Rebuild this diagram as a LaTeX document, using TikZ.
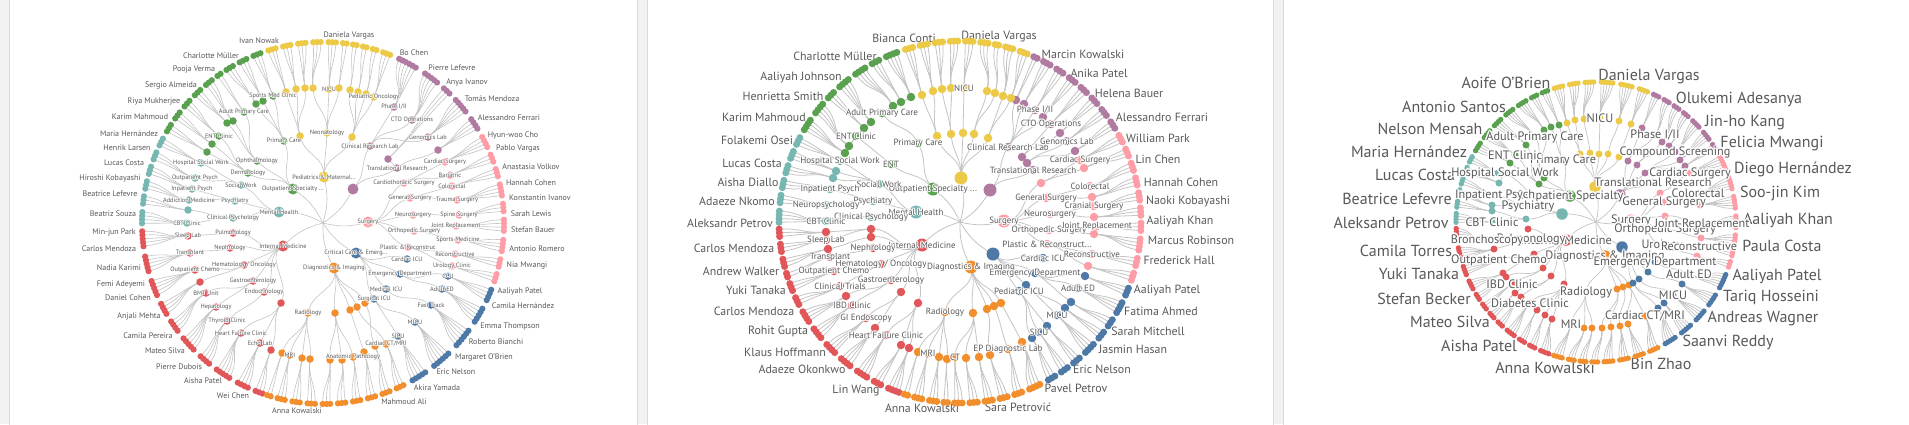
\documentclass[tikz,border=0pt]{standalone}
\usepackage{fontspec}
\setmainfont{PT Sans}
\usetikzlibrary{calc}
\definecolor{tyel}{HTML}{EDC948}
\definecolor{tpur}{HTML}{B07AA1}
\definecolor{tpnk}{HTML}{FF9DA7}
\definecolor{tblu}{HTML}{4E79A7}
\definecolor{tora}{HTML}{F28E2B}
\definecolor{tred}{HTML}{E15759}
\definecolor{ttea}{HTML}{76B7B2}
\definecolor{tgrn}{HTML}{59A14F}
\definecolor{twiggray}{HTML}{C4C4C4}
\definecolor{labgray}{HTML}{595959}
\definecolor{panelgray}{HTML}{F2F2F2}
\definecolor{edgegray}{HTML}{DADADA}
\tikzset{
  leafdot/.style={circle,inner sep=0pt,minimum size=7pt},
  hubdot/.style={circle,inner sep=0pt,minimum size=8.5pt},
  catdot/.style={circle,inner sep=0pt,minimum size=11pt},
  twig/.style={draw=twiggray,line width=.7pt},
  inlab/.style={text=labgray,inner sep=0pt},
  outlab/.style={text=labgray,inner sep=0pt},
}
% white halo round a label
\newdimen\halow
\newcommand\haloed[1]{\leavevmode\halow=.12em\relax
  \rlap{\textcolor{white}{\kern\halow#1}}\rlap{\textcolor{white}{\kern-\halow#1}}%
  \rlap{\textcolor{white}{\raisebox{\halow}{#1}}}\rlap{\textcolor{white}{\raisebox{-\halow}{#1}}}%
  \rlap{\textcolor{white}{\kern.7\halow\raisebox{.7\halow}{#1}}}\rlap{\textcolor{white}{\kern-.7\halow\raisebox{.7\halow}{#1}}}%
  \rlap{\textcolor{white}{\kern.7\halow\raisebox{-.7\halow}{#1}}}\rlap{\textcolor{white}{\kern-.7\halow\raisebox{-.7\halow}{#1}}}%
  #1}
% radial link from #1 to #2 round (ctr)
\newcommand\radlink[2]{%
  \draw[twig] let \p1=($(#1)-(ctr)$), \p2=($(#2)-(ctr)$),
    \n1={scalar(atan2(\y1,\x1))}, \n2={scalar(atan2(\y2,\x2))},
    \n3={(veclen(\x1,\y1)+veclen(\x2,\y2))/2} in
    (#1) .. controls ($(ctr)+(\n1:\n3)$) and ($(ctr)+(\n2:\n3)$) .. (#2);}
% pass 1 links, pass 2 dots, pass 3 labels
% #1 colour, #2 first leaf angle, #3 hubs: name/x/y/parent/leaves/label
\newcommand\branch[3]{%
  \xdef\aleaf{#2}%
  \foreach \hn/\hx/\hy/\hp/\hk/\lbl in {#3}{%
    \ifcase\pass\or
      \coordinate (\hn) at (\hx,\hy); \radlink{\hp}{\hn}%
    \or
      \node[hubdot,fill=#1] (\hn) at (\hx,\hy) {};%
    \or
      \ifx\lbl\empty\else\node[inlab] (l\hn) at (\hx,\hy) {\haloed{\lbl}};\fi
    \fi
    \ifnum\hk>0
      \foreach \kk in {1,...,\hk}{%
        \pgfmathsetmacro\ang{\aleaf+\hk*\astep/2+(\kk-(\hk+1)/2)*0.74*\astep}%
        \ifcase\pass\or
          \coordinate (lf) at ({\cx+\rr*cos(\ang)},{\cy-\rr*sin(\ang)}); \radlink{\hn}{lf}%
        \or
          \node[leafdot,fill=#1] (lf) at ({\cx+\rr*cos(\ang)},{\cy-\rr*sin(\ang)}) {};%
        \fi}%
      \pgfmathsetmacro\anew{\aleaf+\hk*\astep}%
      \xdef\aleaf{\anew}%
    \fi}}
% categories round the centre
\newcommand\trunk[1]{%
  \foreach \nm/\x/\y/\col/\lbl in {#1}{%
    \ifcase\pass\or
      \coordinate (\nm) at (\x,\y); \draw[twig] (ctr) to[bend right=15] (\nm);%
    \or
      \node[catdot,fill=\col] (\nm) at (\x,\y) {};%
    \or
      \ifx\lbl\empty\else\node[inlab] (l\nm) at (\x,\y) {\haloed{\lbl}};\fi
    \fi}}
\begin{document}
\begin{tikzpicture}[x=1pt,y=-1pt]
  \useasboundingbox (0,0) rectangle (1909,424);
  \fill[panelgray] (0,0) rectangle (1909,424);
  \foreach \a/\b in {9/637,647/1273,1283/1910}{\filldraw[fill=white,draw=edgegray] (\a,-1) rectangle (\b,425);}
  \def\astep{1.607}
  % (1) small labels
  \begin{scope}[leafdot/.append style={minimum size=6.2pt},hubdot/.append style={minimum size=7.5pt},
      catdot/.append style={minimum size=11pt},twig/.append style={line width=.6pt},
      inlab/.append style={font=\fontsize{6.3}{7}\selectfont},outlab/.append style={font=\fontsize{8}{9}\selectfont}]
    \def\cx{323}\def\cy{223}\def\rr{181}
    \coordinate (ctr) at (\cx,\cy);
    \foreach \x/\y/\who [count=\nn] in {259/41/Ivan Nowak,349/36/Daniela Vargas,414/53/Bo Chen,452/68/Pierre Lefevre,
      467/82/Anya Ivanov,492/99/Tomás Mendoza,509/118/Alessandro Ferrari,513/135/Hyun-woo Cho,518/149/Pablo Vargas,
      531/167/Anastasia Volkov,531/183/Hannah Cohen,540/198/Konstantin Ivanov,531/214/Sarah Lewis,533/230/Stefan Bauer,
      537/249/Antonio Romero,527/265/Nia Mwangi,520/291/Aaliyah Patel,523/306/Camila Hernández,510/326/Emma Thompson,
      496/342/Roberto Bianchi,484/357/Margaret O'Brien,456/372/Eric Nelson,437/388/Akira Yamada,404/402/Mahmoud Ali,
      297/411/Anna Kowalski,233/396/Wei Chen,203/381/Aisha Patel,179/367/Pierre Dubois,165/351/Mateo Silva,
      148/336/Camila Pereira,139/316/Anjali Mehta,128/298/Daniel Cohen,121/284/Femi Adeyemi,119/268/Nadia Karimi,
      109/249/Carlos Mendoza,114/233/Min-jun Park,113/214/Beatriz Souza,110/194/Beatrice Lefevre,110/178/Hiroshi Kobayashi,
      124/163/Lucas Costa,127/148/Henrik Larsen,129/134/Maria Hernández,140/117/Karim Mahmoud,154/102/Riya Mukherjee,
      171/85/Sergio Almeida,194/70/Pooja Verma,211/56/Charlotte Müller}
      {\node[outlab] (w\nn) at (\x,\y) {\who};}
    \foreach \pass in {1,2,3}{
    \trunk{ped/324/177/tyel/{Pediatrics \& Maternal...},out/293/189/tgrn/{Outpatient Specialty ...},
      men/279/212/ttea/{Mental Health},int/283/246/tred/{Internal Medicine},dia/334/268/tora/{Diagnostics \& Imaging},
      cri/356/253/tblu/{Critical Care \& Emerg...},sur/368/222/tpnk/{Surgery},res/353/189/tpur/{}}
    \branch{tpur}{30}{tr/397/168/res/0/{Translational Research},crl/370/146/res/0/{Clinical Research Lab},
      a1/438/150/tr/4/{},gen/428/137/crl/5/{Genomics Lab},a2/388/159/tr/3/{},
      cto/412/120/crl/5/{CTO Operations},ph/394/107/crl/6/{Phase I/II}}
    \branch{tyel}{67}{neo/327/133/ped/0/{Neonatology},ya/300/136/ped/0/{},yb/352/137/ped/0/{},
      pon/374/97/yb/3/{Pediatric Oncology},y1/366/94/yb/2/{},y2/358/92/yb/2/{},y3/350/90/yb/2/{},
      y4/339/88/neo/2/{},nicu/329/89/neo/3/{NICU},y5/313/88/neo/3/{},y6/305/88/ya/3/{},y7/296/89/ya/3/{},y8/286/92/ya/3/{}}
    \branch{tgrn}{109}{pc/284/141/out/0/{Primary Care},oph/257/161/out/0/{Ophthalmology},der/248/173/out/0/{Dermatology},
      smc/273/96/pc/3/{Sports Med Clinic},g1/263/101/pc/3/{},g2/256/104/pc/3/{},
      apc/244/112/oph/2/{Adult Primary Care},g3/233/121/oph/3/{},g4/227/123/oph/3/{},
      ent/219/136/der/3/{ENT Clinic},g5/212/144/der/3/{},g6/207/152/der/3/{}}
    \branch{ttea}{151}{sw/241/185/men/0/{Social Work},psy/235/201/men/0/{Psychiatry},cp/233/218/men/0/{Clinical Psychology},
      hsw/201/163/sw/3/{Hospital Social Work},op/195/178/sw/3/{Outpatient Psych},ip/192/189/psy/3/{Inpatient Psych},
      am/189/200/psy/3/{Addiction Medicine},t1/188/210/cp/3/{},cbt/187/223/cp/4/{CBT Clinic}}
    \branch{tred}{181}{pul/233/233/int/0/{Pulmonology},nep/230/248/int/0/{Nephrology},ho/244/265/int/0/{Hematology / Oncology},
      gas/253/281/int/0/{Gastroenterology},endo/264/292/int/0/{Endocrinology},r3/281/303/int/0/{},
      sl/188/236/pul/5/{Sleep Lab},tra/190/253/nep/5/{Transplant},oc/195/270/ho/5/{Outpatient Chemo},r1/200/282/ho/4/{},
      bmt/206/293/gas/4/{BMT Unit},hep/216/307/gas/5/{Hepatology},thy/227/321/endo/4/{Thyroid Clinic},
      hfc/241/333/r3/5/{Heart Failure Clinic},echo/260/343/r3/4/{Echo Lab},r2/271/350/r3/3/{}}
    \branch{tora}{251}{rad/308/313/dia/0/{Radiology},o8/335/313/dia/0/{},o9/357/307/dia/0/{},o10/350/310/dia/0/{},
      o11/365/303/dia/0/{},o1/282/353/rad/2/{},mri/290/355/rad/3/{MRI},o2/302/358/rad/3/{},o3/310/359/rad/3/{},
      o4/330/360/o8/3/{},o5/342/360/o8/3/{},ap/353/357/o8/3/{Anatomic Pathology},o6/364/352/o10/3/{},
      o7/375/346/o11/3/{},cct/386/344/o9/3/{Cardiac CT/MRI}}
    \branch{tblu}{298}{cicu/407/259/cri/0/{Cardiac ICU},ed/400/274/cri/0/{Emergency Department},
      micu1/386/289/cri/0/{Medical ICU},sicu1/374/299/cri/0/{Surgical ICU},sicu/398/336/sicu1/5/{SICU},
      micu/415/322/sicu1/6/{MICU},ft/431/305/micu1/6/{Fast Track},aed/442/289/ed/5/{Adult ED},ccu/448/276/ed/4/{CCU}}
    \branch{tpnk}{340}{cts/404/183/sur/0/{Cardiothoracic Surgery},gs/410/198/sur/0/{General Surgery},
      ns/413/215/sur/0/{Neurosurgery},os/414/231/sur/0/{Orthopedic Surgery},prc/408/247/sur/0/{Plastic \& Reconstruc},
      uro/452/266/prc/3/{Urology Clinic},rec/455/254/prc/3/{Reconstructive},sm/458/240/os/4/{Sports Medicine},
      jr/456/226/os/4/{Joint Replacement},ss/459/215/ns/3/{Spine Surgery},ts/457/200/gs/4/{Trauma Surgery},
      col/452/186/gs/3/{Colorectal},bar/450/175/cts/3/{Bariatric},cs/445/162/cts/4/{Cardiac Surgery}}
    }
  \end{scope}
  % (2) medium labels
  \begin{scope}[leafdot/.append style={minimum size=7pt},hubdot/.append style={minimum size=8.5pt},
      catdot/.append style={minimum size=13pt},twig/.append style={line width=.8pt},
      inlab/.append style={font=\fontsize{9}{10}\selectfont},outlab/.append style={font=\fontsize{11.9}{13}\selectfont}]
    \def\cx{960}\def\cy{222}\def\rr{181}
    \coordinate (ctr) at (\cx,\cy);
    \foreach \x/\y/\who [count=\nn] in {904/38/Bianca Conti,999/37/Daniela Vargas,1083/54/Marcin Kowalski,
      1099/73/Anika Patel,1129/93/Helena Bauer,1162/117/Alessandro Ferrari,1158/138/William Park,1158/159/Lin Chen,
      1181/182/Hannah Cohen,1188/201/Naoki Kobayashi,1180/221/Aaliyah Khan,1191/240/Marcus Robinson,
      1179/260/Frederick Hall,1167/290/Aaliyah Patel,1161/311/Fatima Ahmed,1148/331/Sarah Mitchell,
      1133/349/Jasmin Hasan,1102/369/Eric Nelson,1076/388/Pavel Petrov,1018/407/Sara Petrović,922/408/Anna Kowalski,
      856/391/Lin Wang,802/369/Adaeze Okonkwo,785/352/Klaus Hoffmann,778/331/Rohit Gupta,754/311/Carlos Mendoza,
      756/290/Yuki Tanaka,741/271/Andrew Walker,734/248/Carlos Mendoza,730/223/Aleksandr Petrov,737/201/Adaeze Nkomo,
      748/182/Aisha Diallo,752/163/Lucas Costa,757/140/Folakemi Osei,764/117/Karim Mahmoud,783/96/Henrietta Smith,
      801/77/Aaliyah Johnson,835/56/Charlotte Müller}
      {\node[outlab] (w\nn) at (\x,\y) {\who};}
    \foreach \pass in {1,2,3}{
    \trunk{ped/961/178/tyel/{},out/933/189/tgrn/{Outpatient Specialty ...},men/916/212/ttea/{Mental Health},
      int/922/245/tred/{Internal Medicine},dia/971/267/tora/{Diagnostics \& Imaging},cri/993/254/tblu/{},
      sur/1004/221/tpnk/{Surgery},res/990/190/tpur/{}}
    \branch{tpur}{30}{crl/1008/147/res/0/{Clinical Research Lab},tr/1033/170/res/0/{Translational Research},
      q6/1022/157/tr/0/{},q7/1027/163/tr/0/{},q1/1075/151/q7/3/{},gen/1067/141/q7/3/{Genomics Lab},
      q2/1060/133/q6/3/{},cto/1051/124/q6/3/{CTO Operations},q3/1043/117/crl/3/{},ph/1035/110/crl/3/{Phase I/II},
      q4/1024/104/crl/3/{},q5/1016/100/crl/2/{}}
    \branch{tyel}{67}{m1/988/138/ped/0/{},m2/974/134/ped/0/{},m3/963/133/ped/0/{},m4/951/134/ped/0/{},m5/937/136/ped/0/{},
      y1/1011/98/m1/3/{},y2/1003/96/m1/3/{},y3/995/93/m2/2/{},y4/987/91/m2/3/{},nicu/964/88/m3/3/{NICU},
      y5/951/88/m4/3/{},y6/942/89/m4/3/{},y7/933/91/m5/3/{},y8/922/95/m5/3/{}}
    \branch{tgrn}{109}{pc/918/143/out/0/{Primary Care},ent/891/164/out/0/{ENT},apc/882/113/pc/0/{Adult Primary Care},
      entc/856/136/ent/0/{ENT Clinic},g1/911/97/apc/4/{},g2/901/102/apc/3/{},g3/893/106/apc/4/{},
      g4/871/122/entc/4/{},g5/864/128/entc/3/{},g6/849/146/entc/4/{},g7/845/153/entc/4/{}}
    \branch{ttea}{151}{sw/879/184/men/0/{Social Work},psy/873/201/men/0/{Psychiatry},cp/871/217/men/0/{Clinical Psychology},
      hsw/840/161/sw/3/{Hospital Social Work},t1/836/171/sw/3/{},t2/833/178/sw/3/{},ip/830/189/psy/3/{Inpatient Psych},
      np/826/205/psy/3/{Neuropsychology},cbt/826/221/cp/4/{CBT Clinic}}
    \branch{tred}{181}{r12/871/229/int/0/{},r13/871/237/int/0/{},nep/873/248/int/0/{Nephrology},
      ho/881/264/int/0/{Hematology / Oncology},gas/891/280/int/0/{Gastroenterology},r14/901/292/int/0/{},r15/918/303/int/0/{},
      r1/826/232/r12/3/{},sl/826/240/r12/3/{Sleep Lab},r2/828/249/r13/3/{},tra/830/257/nep/2/{Transplant},
      oc/834/271/ho/3/{Outpatient Chemo},ct/840/286/ho/3/{Clinical Trials},r5/846/296/gas/4/{},
      ibd/852/305/gas/4/{IBD Clinic},gie/866/318/r14/4/{GI Endoscopy},r8/875/328/r14/4/{},
      hfc/886/335/r15/4/{Heart Failure Clinic},r10/901/345/r15/3/{},r11/909/348/r15/4/{}}
    \branch{tora}{251}{rad/945/312/dia/0/{Radiology},o9/973/313/dia/0/{},o10/987/309/dia/0/{},o11/994/306/dia/0/{},
      o12/1001/303/dia/0/{},o1/918/352/rad/2/{},mri/928/353/rad/3/{MRI},o2/939/357/rad/3/{},o3/947/359/rad/2/{},
      ct2/955/357/o9/3/{CT},o4/966/358/o9/3/{},o5/979/357/o9/3/{},o6/990/355/o10/3/{},
      epd/1008/349/o11/3/{EP Diagnostic Lab},o8/1022/342/o12/4/{}}
    \branch{tblu}{298}{cicu/1043/258/cri/0/{Cardiac ICU},ed/1035/273/cri/0/{Emergency Department},
      picu/1019/291/cri/0/{Pediatric ICU},b6/1026/285/cri/0/{},b1/1032/338/picu/3/{},sicu/1039/332/picu/3/{SICU},
      b2/1047/326/picu/3/{},micu/1057/315/b6/4/{MICU},b3/1065/308/b6/3/{},b4/1071/302/ed/3/{},
      aed/1078/288/ed/4/{Adult ED},b5/1085/276/ed/3/{}}
    \branch{tpnk}{340}{p6/1041/183/sur/0/{},gs/1046/198/sur/0/{General Surgery},ns/1050/214/sur/0/{Neurosurgery},
      os/1049/230/sur/0/{Orthopedic Surgery},prc/1047/244/sur/0/{Plastic \& Reconstruct...},
      p1/1088/266/prc/3/{},rec/1092/254/prc/3/{Reconstructive},p2/1094/234/os/4/{},jr/1097/226/os/3/{Joint Replacement},
      p3/1094/217/ns/3/{},crs/1094/206/ns/3/{Cranial Surgery},p4/1092/197/gs/3/{},col/1090/186/gs/3/{Colorectal},
      p5/1084/168/p6/3/{},cs/1080/160/p6/3/{Cardiac Surgery}}
    }
  \end{scope}
  % (3) large labels
  \begin{scope}[leafdot/.append style={minimum size=5.4pt},hubdot/.append style={minimum size=7pt},
      catdot/.append style={minimum size=11.5pt},twig/.append style={line width=.7pt},
      inlab/.append style={font=\fontsize{12.2}{13}\selectfont},outlab/.append style={font=\fontsize{16}{17}\selectfont}]
    \def\cx{1596}\def\cy{222}\def\rr{140}
    \coordinate (ctr) at (\cx,\cy);
    \foreach \x/\y/\who [count=\nn] in {1506/83/Aoife O'Brien,1649/77/Daniela Vargas,1739/99/Olukemi Adesanya,
      1745/123/Jin-ho Kang,1772/144/Felicia Mwangi,1793/169/Diego Hernández,1780/193/Soo-jin Kim,1788/220/Aaliyah Khan,
      1782/246/Paula Costa,1777/276/Aaliyah Patel,1771/297/Tariq Hosseini,1763/319/Andreas Wagner,1728/342/Saanvi Reddy,
      1661/364/Bin Zhao,1545/368/Anna Kowalski,1479/346/Aisha Patel,1450/322/Mateo Silva,1424/299/Stefan Becker,
      1419/274/Yuki Tanaka,1406/251/Camila Torres,1391/223/Aleksandr Petrov,1397/199/Beatrice Lefevre,
      1415/175/Lucas Costa,1409/152/Maria Hernández,1430/129/Nelson Mensah,1454/107/Antonio Santos}
      {\node[outlab] (w\nn) at (\x,\y) {\who};}
    \foreach \pass in {1,2,3}{
    \trunk{ped/1595/187/tyel/{},out/1570/196/tgrn/{Outpatient Specialty},men/1562/214/ttea/{},
      int/1566/240/tred/{Internal Medicine},dia/1605/256/tora/{Diagnostics \& Imaging},cri/1622/247/tblu/{},
      sur/1631/220/tpnk/{Surgery},res/1620/195/tpur/{}}
    \branch{tpur}{30}{m1/1628/161/res/0/{},m2/1637/165/res/0/{},m3/1645/173/res/0/{},
      tr/1653/182/res/0/{Translational Research},q1/1685/166/m3/3/{},q2/1680/160/m3/4/{},
      cmp/1675/152/m3/4/{Compound Screening},q3/1669/146/m2/3/{},q4/1662/142/m2/3/{},ph/1655/135/m1/3/{Phase I/II},
      q5/1642/128/m1/3/{}}
    \branch{tyel}{67}{m1/1619/157/ped/0/{},m2/1608/154/ped/0/{},m3/1599/154/ped/0/{},m4/1590/153/ped/0/{},
      m5/1580/154/ped/0/{},y1/1631/124/m1/4/{},y2/1619/121/m2/5/{},nicu/1600/118/m3/5/{NICU},y3/1584/119/m4/4/{},
      y4/1575/120/m5/4/{},y5/1567/123/m5/4/{}}
    \branch{tgrn}{109}{pc/1563/160/out/0/{Primary Care},g6/1544/178/out/0/{},g7/1539/184/out/0/{},
      g1/1559/125/pc/3/{},g2/1551/127/pc/3/{},g3/1544/130/g6/4/{},apc/1535/137/g6/4/{Adult Primary Care},
      g4/1526/145/g7/4/{},entc/1515/155/g7/4/{ENT Clinic},g5/1510/163/g7/4/{}}
    \branch{ttea}{151}{hsw/1505/173/men/0/{Hospital Social Work},psy/1528/206/men/0/{Psychiatry},t5/1526/219/men/0/{},
      t1/1498/173/hsw/3/{},t2/1499/183/hsw/3/{},ip/1495/195/psy/3/{Inpatient Psych},t3/1492/205/psy/3/{},
      t4/1492/211/t5/3/{},cbt/1492/222/t5/4/{CBT Clinic}}
    \branch{tred}{181}{pul/1531/239/int/0/{Pulmonology},r9/1528/229/int/0/{},r10/1534/254/int/0/{},r11/1543/268/int/0/{},
      r12/1551/276/int/0/{},r13/1564/284/int/0/{},bro/1487/240/pul/5/{Bronchoscopy},r1/1494/249/pul/5/{},
      oc/1499/260/r10/4/{Outpatient Chemo},r2/1503/273/r10/4/{},r3/1506/277/r11/3/{},ibd/1512/284/r11/3/{IBD Clinic},
      r4/1515/293/r12/3/{},r5/1521/297/r12/3/{},diab/1530/303/r13/4/{Diabetes Clinic},r6/1537/310/r13/3/{},
      r7/1545/315/r13/3/{},r8/1552/319/r13/4/{}}
    \branch{tora}{251}{rad/1586/292/dia/0/{Radiology},o8/1617/289/dia/0/{},o9/1623/287/dia/0/{},o10/1629/285/dia/0/{},
      mri/1571/324/rad/4/{MRI},o2/1584/328/rad/3/{},o3/1592/328/rad/3/{},o4/1602/328/o8/3/{},o5/1611/327/o8/4/{},
      o6/1620/326/o9/4/{},o7/1628/324/o10/4/{},cct/1645/316/o10/4/{Cardiac CT/MRI}}
    \branch{tblu}{298}{b4/1633/283/cri/0/{},b5/1639/279/cri/0/{},b6/1648/272/cri/0/{},
      ed/1655/262/cri/0/{Emergency Department},b1/1658/308/b4/5/{},b2/1664/303/b4/5/{},micu/1673/295/b5/5/{MICU},
      b3/1682/284/b6/5/{},aed/1689/274/ed/6/{Adult ED}}
    \branch{tpnk}{340}{p4/1660/193/sur/0/{},gs/1664/202/sur/0/{General Surgery},p5/1665/216/sur/0/{},
      os/1665/229/sur/0/{Orthopedic Surgery},uro/1662/246/sur/0/{Urology},p1/1697/256/uro/3/{},
      rec/1699/246/uro/3/{Reconstructive},p2/1701/238/os/4/{},jr/1702/224/p5/5/{Joint Replacement},
      p3/1700/205/gs/5/{},col/1698/193/gs/5/{Colorectal},cs/1690/173/p4/6/{Cardiac Surgery}}
    }
  \end{scope}
\end{tikzpicture}
\end{document}
